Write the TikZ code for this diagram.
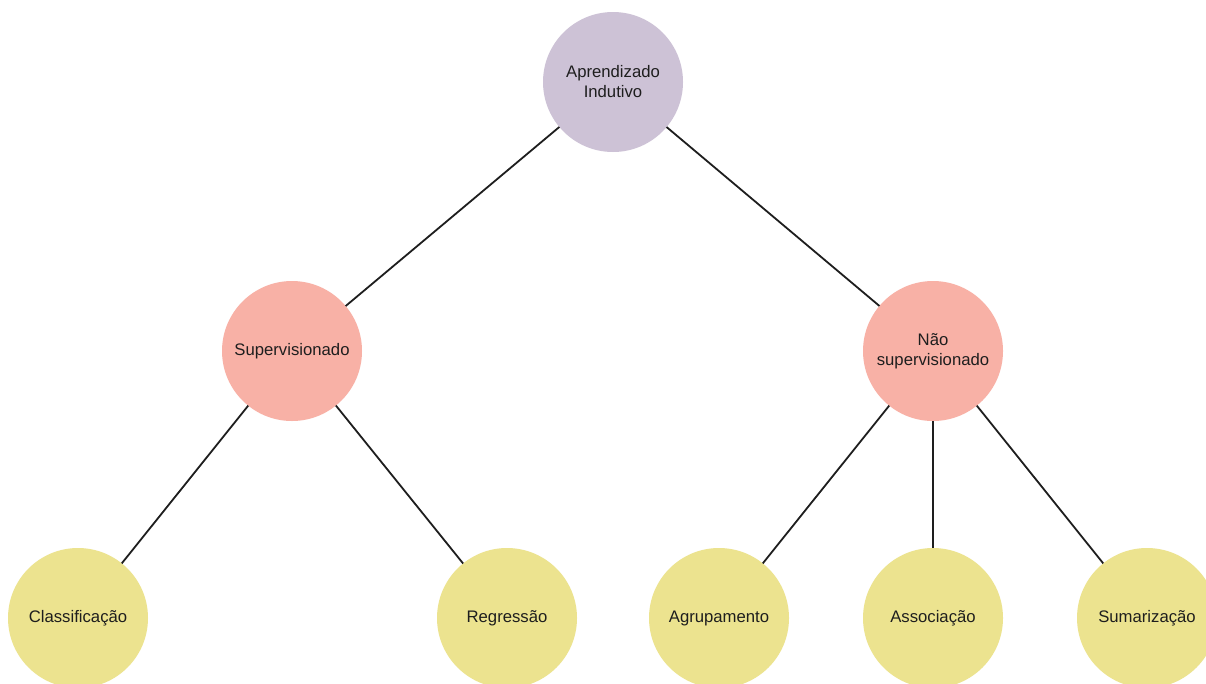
\documentclass[tikz,border=0pt]{standalone}
\usepackage{fontspec}
\setmainfont{Liberation Sans}
\definecolor{rootfill}{HTML}{CDC2D6}
\definecolor{midfill}{HTML}{F8B1A6}
\definecolor{leaffill}{HTML}{ECE38F}
\definecolor{inkdark}{HTML}{1E1E1E}
\begin{document}
\begin{tikzpicture}[x=1pt,y=-1pt,
  bubble/.style={circle,minimum size=140pt,inner sep=0pt,outer sep=0pt,
    align=center,text=inkdark,font=\fontsize{16.7}{20}\selectfont},
  rootnode/.style={bubble,fill=rootfill},
  midnode/.style={bubble,fill=midfill},
  leafnode/.style={bubble,fill=leaffill},
  link/.style={draw=inkdark,line width=1.8pt}]
  \useasboundingbox (0,0) rectangle (1206,683);
  \fill[white] (0,0) rectangle (1206,683);
  % root
  \node[rootnode] (root) at (613,82) {Aprendizado\\Indutivo};
  % second level
  \node[midnode] (sup) at (292,351) {Supervisionado};
  \node[midnode] (nsup) at (933,351) {Não\\supervisionado};
  % leaves
  \node[leafnode] (cls) at (78,618) {Classificação};
  \node[leafnode] (reg) at (507,618) {Regressão};
  \node[leafnode] (agr) at (719,618) {Agrupamento};
  \node[leafnode] (ass) at (933,618) {Associação};
  \node[leafnode] (sum) at (1147,618) {Sumarização};
  % connectors
  \draw[link] (root) -- (sup);
  \draw[link] (root) -- (nsup);
  \draw[link] (sup) -- (cls);
  \draw[link] (sup) -- (reg);
  \draw[link] (nsup) -- (agr);
  \draw[link] (nsup) -- (ass);
  \draw[link] (nsup) -- (sum);
\end{tikzpicture}
\end{document}
